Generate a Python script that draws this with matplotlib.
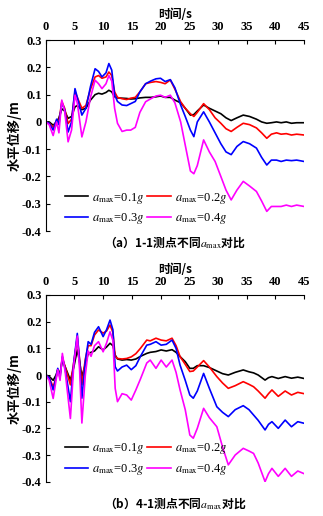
import matplotlib
matplotlib.use('Agg')
import matplotlib.pyplot as plt

plt.rcParams['font.family'] = ['Liberation Serif', 'Noto Sans CJK SC']
plt.rcParams['mathtext.fontset'] = 'stix'

# time axis and displacement (m) for measuring point 1-1
t_a = [0, 0.6, 1.3, 1.9, 2.3, 2.8, 3.3, 3.9, 4.5, 5.1, 5.5, 6.3, 7.0, 7.8, 8.6, 9.2,
       9.8, 10.5, 11.0, 11.5, 12.0, 12.5, 13.3, 14.1, 14.8, 15.6, 16.4, 17.4, 18.3,
       19.2, 20.0, 20.8, 21.7, 22.5, 23.5, 24.3, 25.2, 25.8, 26.4, 27.5, 28.5, 29.5,
       30.5, 31.4, 32.3, 33.3, 34.4, 35.5, 36.7, 37.6, 38.5, 39.3, 40.2, 41.0, 41.9,
       42.8, 43.7, 45.0]
a_01 = [0, 0, -0.012, 0.0, 0.015, 0.048, 0.04, 0.013, 0.02, 0.055, 0.06, 0.045, 0.05,
        0.08, 0.1, 0.105, 0.102, 0.108, 0.116, 0.11, 0.092, 0.088, 0.087, 0.086, 0.084,
        0.085, 0.088, 0.09, 0.09, 0.092, 0.095, 0.09, 0.09, 0.08, 0.07, 0.05, 0.025,
        0.027, 0.04, 0.062, 0.05, 0.04, 0.03, 0.015, 0.005, 0.015, 0.025, 0.02, 0.01,
        0.0, -0.005, -0.003, 0.0, -0.003, 0.0, -0.005, -0.003, -0.003]
a_02 = [0, -0.005, -0.02, 0.005, 0.0, 0.075, 0.05, -0.006, 0.01, 0.11, 0.09, 0.05, 0.06,
        0.12, 0.165, 0.17, 0.16, 0.165, 0.183, 0.17, 0.11, 0.09, 0.085, 0.082, 0.087,
        0.09, 0.11, 0.14, 0.145, 0.148, 0.145, 0.14, 0.154, 0.12, 0.074, 0.05, 0.03,
        0.02, 0.035, 0.067, 0.045, 0.015, -0.005, -0.025, -0.035, -0.02, -0.005, -0.01,
        -0.022, -0.04, -0.06, -0.045, -0.04, -0.045, -0.043, -0.048, -0.045, -0.048]
a_03 = [0, -0.005, -0.03, 0.01, -0.01, 0.07, 0.045, -0.037, 0.0, 0.122, 0.09, 0.025, 0.05,
        0.13, 0.195, 0.185, 0.165, 0.18, 0.214, 0.19, 0.1, 0.075, 0.062, 0.06, 0.067,
        0.075, 0.11, 0.14, 0.15, 0.158, 0.16, 0.148, 0.155, 0.125, 0.062, 0.02, -0.03,
        -0.054, 0.0, 0.037, 0.0, -0.04, -0.08, -0.11, -0.12, -0.09, -0.072, -0.08,
        -0.096, -0.13, -0.158, -0.14, -0.14, -0.145, -0.14, -0.142, -0.14, -0.145]
a_04 = [0, -0.01, -0.05, 0.0, -0.04, 0.08, 0.04, -0.073, -0.03, 0.098, 0.07, -0.055, 0.0,
        0.09, 0.153, 0.14, 0.122, 0.14, 0.17, 0.15, 0.05, -0.005, -0.035, -0.03, -0.03,
        -0.02, 0.035, 0.074, 0.085, 0.095, 0.098, 0.09, 0.098, 0.07, 0.0, -0.085, -0.18,
        -0.19, -0.16, -0.066, -0.11, -0.145, -0.2, -0.25, -0.286, -0.25, -0.218, -0.235,
        -0.255, -0.29, -0.328, -0.31, -0.31, -0.31, -0.305, -0.31, -0.305, -0.31]

# time axis and displacement (m) for measuring point 4-1
t_b = [0, 0.6, 1.3, 1.8, 2.1, 2.5, 2.9, 3.4, 4.3, 4.9, 5.5, 5.9, 6.3, 6.9, 7.4, 7.9, 8.5,
       9.2, 10.0, 10.6, 11.2, 11.7, 12.1, 12.5, 13.3, 14.1, 14.9, 15.7, 16.5, 17.6,
       18.2, 19.2, 20.1, 21.0, 22.0, 22.7, 23.4, 24.3, 25.1, 25.7, 26.4, 27.5, 28.5,
       29.8, 30.8, 31.8, 33.0, 34.4, 35.4, 36.2, 37.0, 38.2, 38.8, 39.4, 40.5, 41.7,
       42.8, 43.9, 45.0]
b_01 = [0, -0.005, -0.02, 0.0, 0.02, 0.005, 0.056, 0.03, -0.019, 0.03, 0.094, 0.05,
        -0.006, 0.04, 0.081, 0.085, 0.09, 0.106, 0.094, 0.105, 0.119, 0.11, 0.075, 0.06,
        0.056, 0.058, 0.056, 0.06, 0.07, 0.081, 0.085, 0.088, 0.094, 0.09, 0.095, 0.085,
        0.069, 0.05, 0.025, 0.025, 0.035, 0.035, 0.028, 0.015, 0.005, 0.0, 0.01, 0.019,
        0.012, 0.008, 0.0, -0.019, -0.01, -0.006, -0.013, -0.006, -0.012, -0.008, -0.013]
b_02 = [0, -0.01, -0.044, -0.01, 0.02, 0.0, 0.065, 0.03, -0.037, 0.05, 0.14, 0.06, -0.037,
        0.06, 0.11, 0.11, 0.15, 0.169, 0.157, 0.165, 0.1875, 0.16, 0.07, 0.062, 0.06,
        0.062, 0.068, 0.08, 0.1, 0.131, 0.128, 0.138, 0.131, 0.128, 0.138, 0.11, 0.069,
        0.04, 0.013, 0.015, 0.03, 0.054, 0.03, -0.006, -0.03, -0.05, -0.04, -0.025, -0.035,
        -0.044, -0.06, -0.087, -0.07, -0.056, -0.08, -0.06, -0.075, -0.065, -0.07]
b_03 = [0, -0.01, -0.056, -0.01, 0.025, -0.01, 0.069, 0.02, -0.1, 0.05, 0.156, 0.05,
        -0.087, 0.05, 0.125, 0.115, 0.16, 0.181, 0.144, 0.17, 0.206, 0.17, 0.031, 0.015,
        0.03, 0.037, 0.02, 0.035, 0.07, 0.112, 0.115, 0.125, 0.112, 0.115, 0.131, 0.1,
        0.037, -0.02, -0.075, -0.087, -0.06, 0.006, -0.05, -0.119, -0.14, -0.156, -0.13,
        -0.115, -0.13, -0.15, -0.17, -0.206, -0.185, -0.175, -0.2, -0.169, -0.194, -0.175,
        -0.181]
b_04 = [0, -0.02, -0.088, -0.02, 0.02, -0.02, 0.081, 0.01, -0.163, 0.04, 0.146, 0.02,
        -0.18, 0.0, 0.09, 0.07, 0.11, 0.125, 0.087, 0.12, 0.162, 0.13, -0.05, -0.1, -0.07,
        -0.075, -0.094, -0.056, -0.015, 0.045, 0.056, 0.025, 0.056, 0.03, 0.056, 0.01,
        -0.056, -0.13, -0.225, -0.237, -0.2, -0.125, -0.16, -0.194, -0.27, -0.337, -0.3,
        -0.275, -0.285, -0.294, -0.33, -0.4, -0.37, -0.35, -0.38, -0.35, -0.38, -0.36,
        -0.37]

x_ticks = [0, 5, 10, 15, 20, 25, 30, 35, 40, 45]
y_ticks = [0.3, 0.2, 0.1, 0, -0.1, -0.2, -0.3, -0.4]
y_tick_labels = ['0.3', '0.2', '0.1', '0', '-0.1', '-0.2', '-0.3', '-0.4']
labels = [r'$a_{\mathrm{max}}$=0.1$g$', r'$a_{\mathrm{max}}$=0.2$g$',
          r'$a_{\mathrm{max}}$=0.3$g$', r'$a_{\mathrm{max}}$=0.4$g$']
colors = ['black', 'red', 'blue', 'magenta']
captions = [r'（a）1-1测点不同$a_{\mathrm{max}}$对比', r'（b）4-1测点不同$a_{\mathrm{max}}$对比']
caption_y = [-0.058, -0.114]

fig = plt.figure(figsize=(3.23, 5.16), dpi=100)
ax_a = fig.add_axes([0.1415, 0.5523, 0.80, 0.370])
ax_b = fig.add_axes([0.1415, 0.0665, 0.80, 0.3618])

panels = [(ax_a, t_a, [a_01, a_02, a_03, a_04]),
          (ax_b, t_b, [b_01, b_02, b_03, b_04])]

for i, (ax, t, series) in enumerate(panels):
    lines = []
    for y, c, lab in zip(series, colors, labels):
        ln, = ax.plot(t, y, color=c, lw=1.2, label=lab)
        lines.append(ln)
    ax.set_xlim(0, 45)
    ax.set_ylim(-0.4, 0.3)
    ax.xaxis.tick_top()
    ax.xaxis.set_label_position('top')
    ax.set_xticks(x_ticks)
    ax.set_yticks(y_ticks)
    ax.set_yticklabels(y_tick_labels)
    ax.tick_params(direction='in', length=3, width=0.8, labelsize=9)
    ax.tick_params(axis='x', pad=5)
    ax.tick_params(axis='y', pad=3)
    for lbl in ax.get_xticklabels() + ax.get_yticklabels():
        lbl.set_fontweight('bold')
    ax.spines['right'].set_visible(False)
    ax.spines['bottom'].set_visible(False)
    ax.set_xlabel('时间/s', family=['Noto Sans CJK SC'], fontweight='bold',
                  fontsize=8.5, labelpad=2)
    ax.set_ylabel('水平位移/m', family=['Noto Sans CJK SC'], fontweight='bold',
                  fontsize=9.5, labelpad=0)
    # two rows: 0.1g / 0.2g on top, 0.3g / 0.4g below
    order = [0, 2, 1, 3]
    ax.legend([lines[k] for k in order], [labels[k] for k in order],
              loc='lower left', bbox_to_anchor=(0.03, -0.035), ncol=2, frameon=False,
              fontsize=9, handlelength=1.9, handletextpad=0.3, columnspacing=0.2,
              labelspacing=0.45)
    ax.text(0.5, caption_y[i], captions[i], transform=ax.transAxes, ha='center',
            va='center', fontsize=8.5, fontweight='bold', family=['Noto Sans CJK SC'])

fig.savefig('out.png', dpi=100)
